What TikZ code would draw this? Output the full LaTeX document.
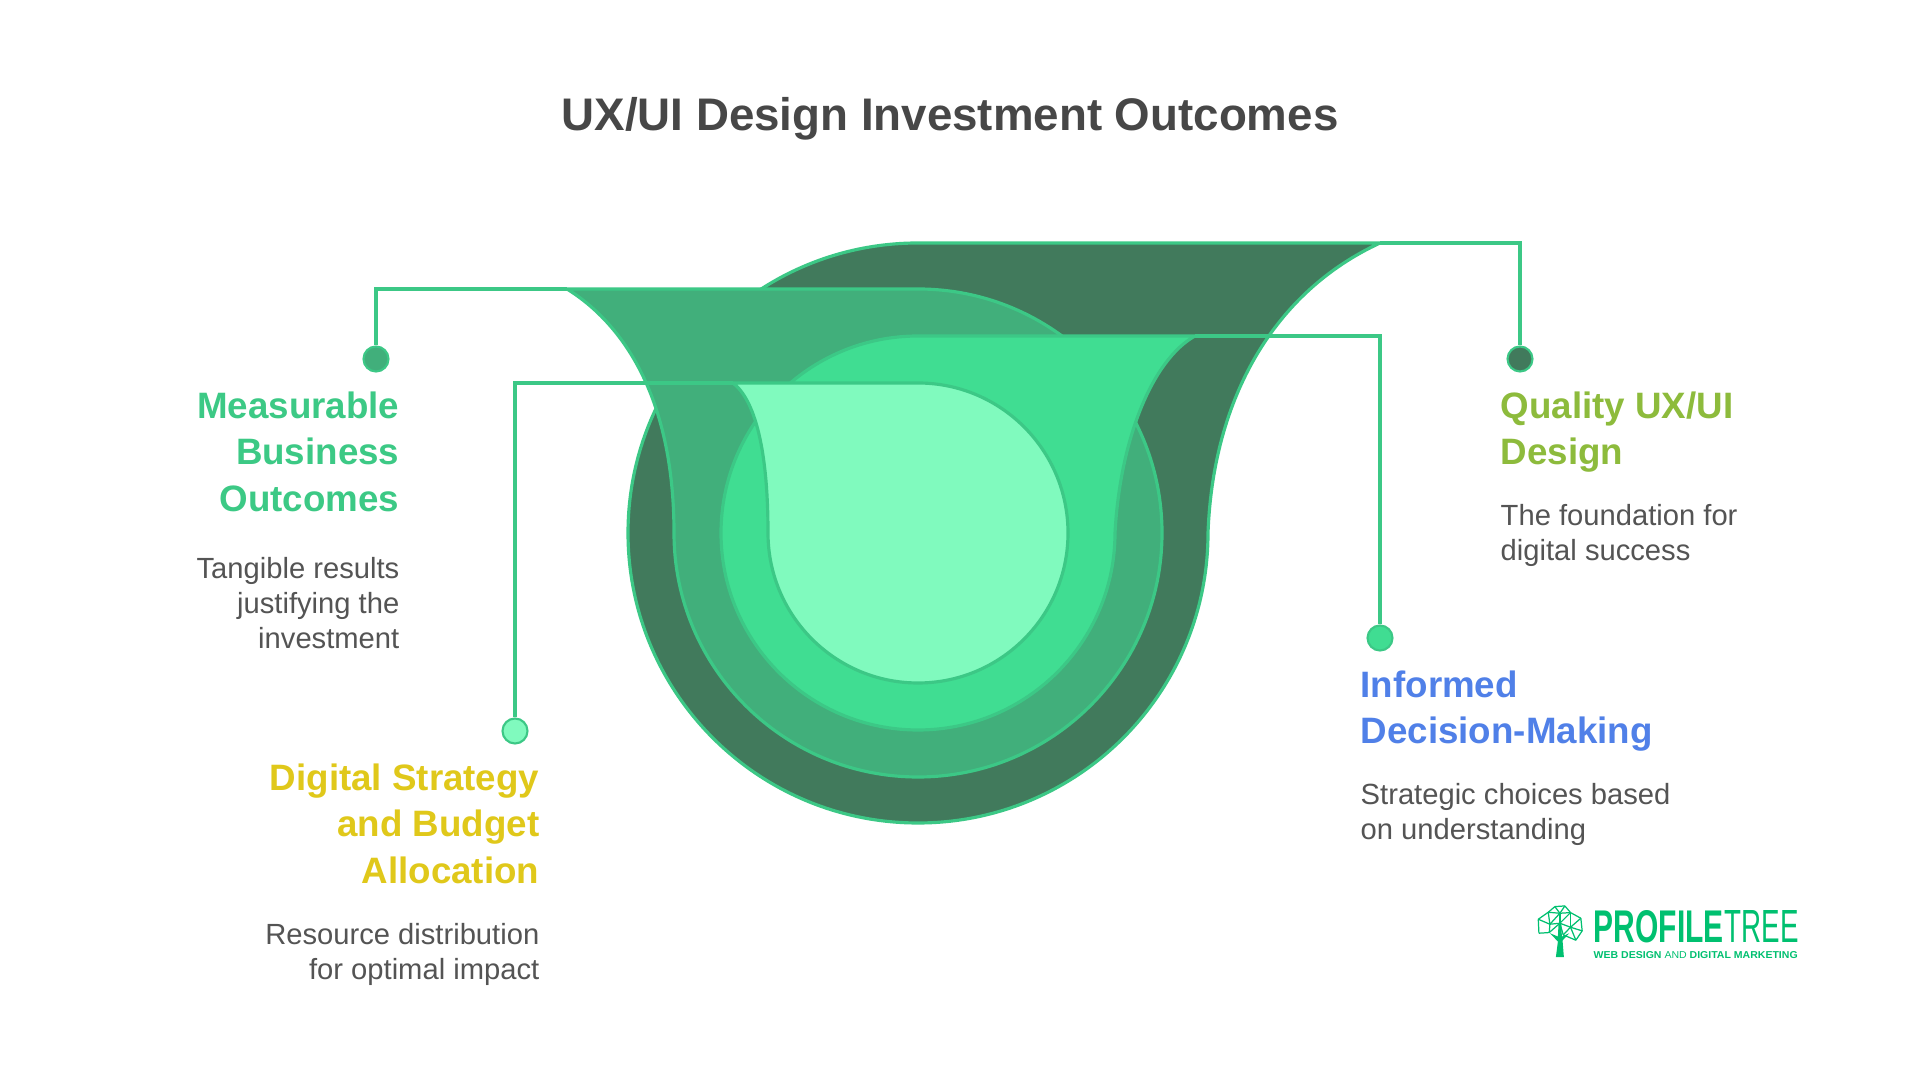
\documentclass[tikz,border=0pt]{standalone}
\usepackage{fontspec}
\setmainfont{Liberation Sans}
\usepackage{xcolor}
\definecolor{layerA}{HTML}{417A5C}
\definecolor{layerB}{HTML}{41AF7B}
\definecolor{layerC}{HTML}{40DD92}
\definecolor{layerD}{HTML}{80FABE}
\definecolor{edgegreen}{HTML}{3CC886}
\definecolor{logogreen}{HTML}{00C070}
\definecolor{headgreen}{HTML}{3CC985}
\definecolor{headlime}{HTML}{8DBB3C}
\definecolor{headyellow}{HTML}{E0C81A}
\definecolor{headblue}{HTML}{5080E8}
\tikzset{
	layer/.style={draw=edgegreen, line width=0.9pt, line join=round},
	link/.style={draw=edgegreen, line width=0.9pt},
	enddot/.style={circle, draw=edgegreen, line width=0.6pt, minimum size=0.25cm, inner sep=0pt},
	heading/.style={inner sep=0pt, font=\fontsize{10.45}{13.2}\selectfont\bfseries},
	bodytext/.style={inner sep=0pt, text=black!67, font=\fontsize{8.3}{10}\selectfont},
}

\begin{document}
\begin{tikzpicture}
\useasboundingbox[fill=white] (0,0) rectangle (19.2,10.8);

\node[inner sep=0pt, text=black!72, font=\fontsize{13}{15}\selectfont\bfseries] (title) at (9.50,9.61) {UX/UI Design Investment Outcomes};

% the four funnels, back to front
\coordinate (cornerA) at (13.80,8.37);
\coordinate (cornerB) at (5.67,7.91);
\coordinate (cornerC) at (11.95,7.44);
\coordinate (cornerD) at (7.33,6.97);

\draw[layer, fill=layerA] (9.18,8.37) -- (cornerA) .. controls (12.74,7.88) and (12.13,6.82) .. (12.08,5.47) arc[start angle=0, end angle=-270, radius=2.9] -- cycle;
\node[enddot, fill=layerA] (dotquality) at (15.20,7.21) {};
\draw[link] (dotquality) |- (cornerA);

\draw[layer, fill=layerB] (9.18,7.91) -- (cornerB) .. controls (6.25,7.55) and (6.74,6.80) .. (6.74,5.47) arc[start angle=180, end angle=450, radius=2.44] -- cycle;
\node[enddot, fill=layerB] (dotmeasurable) at (3.76,7.21) {};
\draw[link] (dotmeasurable) |- (cornerB);

\draw[layer, fill=layerC] (9.18,7.44) -- (cornerC) .. controls (11.52,7.20) and (11.20,6.40) .. (11.15,5.47) arc[start angle=0, end angle=-270, radius=1.97] -- cycle;
\node[enddot, fill=layerC] (dotinformed) at (13.80,4.42) {};
\draw[link] (dotinformed) |- (cornerC);

\draw[layer, fill=layerD] (9.18,6.97) -- (cornerD) .. controls (7.55,6.80) and (7.68,6.30) .. (7.68,5.47) arc[start angle=180, end angle=450, radius=1.5] -- cycle;
\node[enddot, fill=layerD] (dotdigital) at (5.15,3.49) {};
\draw[link] (dotdigital) |- (cornerD);

% left texts
\node[heading, text=headgreen, align=right, anchor=north east] (measurable) at (4.00,6.89) {Measurable\\Business\\Outcomes};
\node[bodytext, align=right, anchor=north east] (measurablebody) at (4.00,5.235) {Tangible results\\justifying the\\investment};
\node[heading, text=headyellow, align=right, anchor=north east] (digital) at (5.40,3.17) {Digital Strategy\\and Budget\\Allocation};
\node[bodytext, align=right, anchor=north east] (digitalbody) at (5.40,1.575) {Resource distribution\\for optimal impact};

% right texts
\node[heading, text=headlime, align=left, anchor=north west] (quality) at (15.00,6.89) {Quality UX/UI\\Design};
\node[bodytext, align=left, anchor=north west] (qualitybody) at (15.00,5.765) {The foundation for\\digital success};
\node[heading, text=headblue, align=left, anchor=north west] (informed) at (13.60,4.10) {Informed\\Decision-Making};
\node[bodytext, align=left, anchor=north west] (informedbody) at (13.60,2.975) {Strategic choices based\\on understanding};

% logo
\node[inner sep=0pt, anchor=north west, text=logogreen] (logoprofile) at (15.93,1.70) {\resizebox{1.30cm}{0.32cm}{\bfseries PROFILE}};
\node[inner sep=0pt, anchor=north west, text=logogreen] (logotree) at (17.24,1.70) {\resizebox{0.74cm}{0.32cm}{TREE}};
\node[inner sep=0pt, anchor=north west, text=logogreen] (logotag) at (15.93,1.29) {\resizebox{2.04cm}{0.07cm}{\bfseries WEB DESIGN \mdseries AND \bfseries DIGITAL MARKETING}};

\begin{scope}[shift={(15,2)}, x=0.00333cm, y=-0.00333cm]
	\foreach \name/\px/\py in {a/165/80, b/195/78, c/145/97, d/180/100, e/212/98, f/115/118, g/243/115, h/150/133, i/180/130, j/212/142, k/247/153, l/117/160, m/148/158, n/190/165, o/228/181}
		\coordinate (t\name) at (\px,\py);
	\foreach \from/\to in {a/b, a/c, a/d, b/d, b/e, c/d, d/e, c/f, f/h, c/h, d/h, d/i, e/g, e/j, g/j, g/k, j/k, i/j, h/i, f/l, l/m, h/m, m/i, i/n, n/j, j/o, k/o, n/o, e/i}
		\draw[logogreen, line width=0.35pt] (t\from) -- (t\to);
	\foreach \name/\rad in {a/0.012, b/0.012, c/0.014, d/0.024, e/0.024, f/0.022, g/0.014, h/0.014, i/0.026, j/0.014, k/0.026, l/0.014, m/0.014, n/0.014, o/0.014}
		\fill[logogreen] (t\name) circle (\rad);
	\fill[logogreen] (176,130) -- (184,130) -- (186,170) -- (208,160) -- (188,182) -- (192,232) -- (168,232) -- (174,185) -- (150,160) -- (174,170) -- cycle;
\end{scope}

\end{tikzpicture}
\end{document}
